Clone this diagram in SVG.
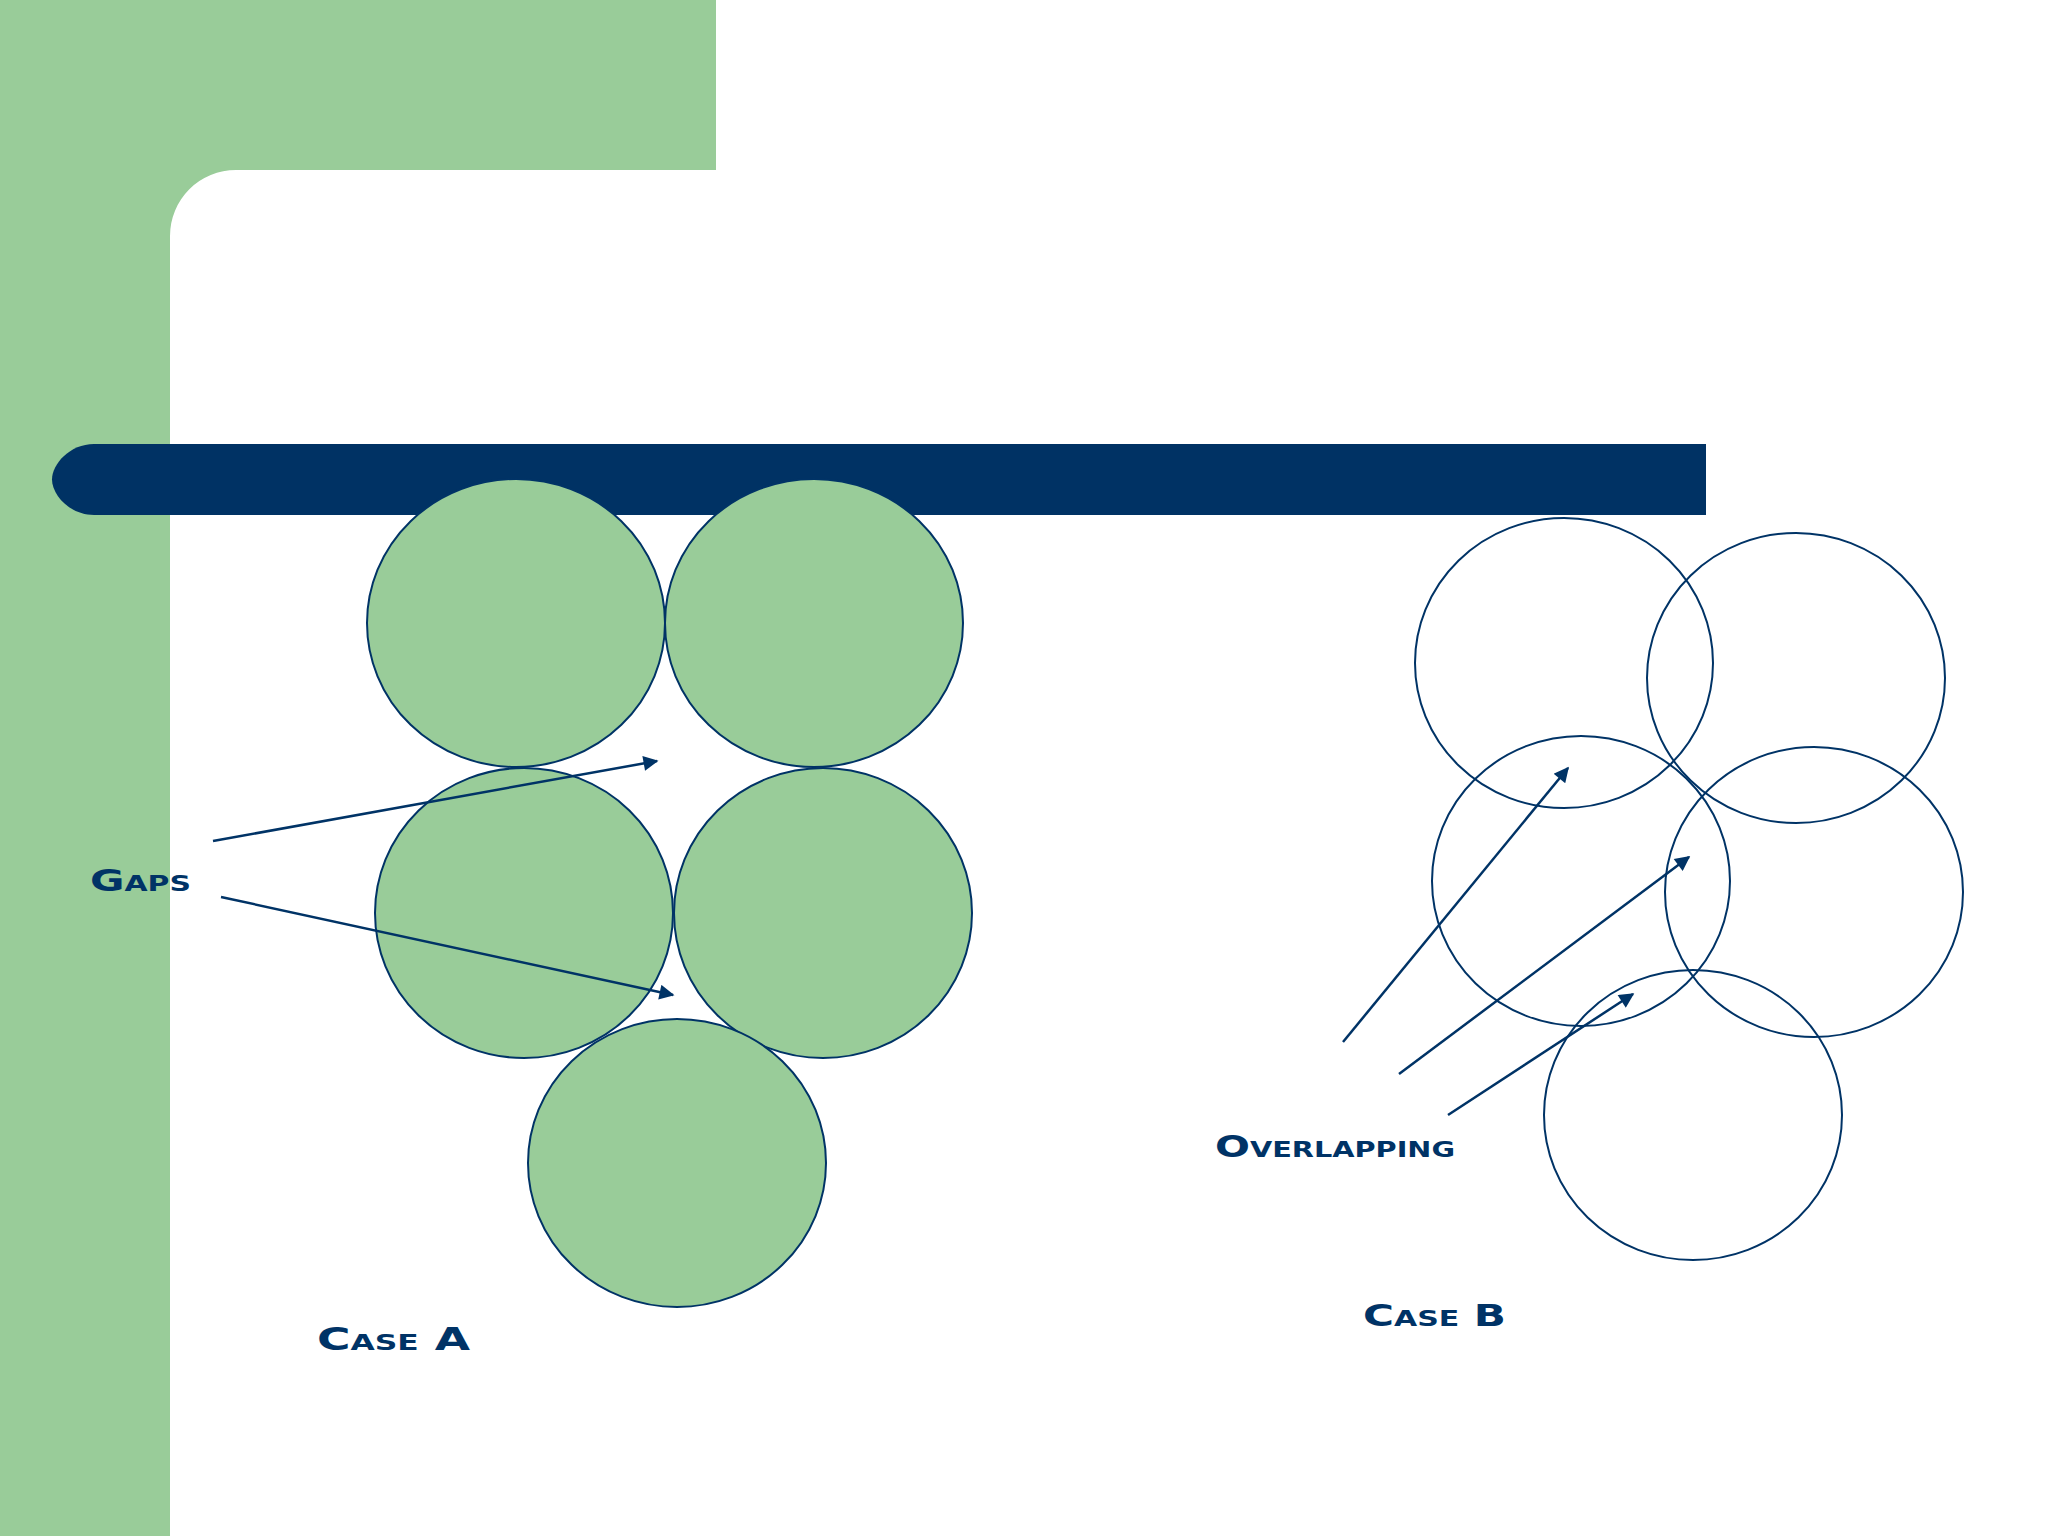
<svg xmlns="http://www.w3.org/2000/svg" width="2048" height="1536" viewBox="0 0 2048 1536">
<style>
.filled{fill:#99CC99;stroke:#003366;stroke-width:2}
.open{fill:none;stroke:#003366;stroke-width:2}
.conn{stroke:#003366;stroke-width:2.5;fill:none}
.lbl{fill:#003366;font-family:"DejaVu Sans","Liberation Sans",sans-serif;font-weight:bold;font-variant:small-caps}
</style>
<defs>
<marker id="ah" viewBox="0 0 10 10" refX="9" refY="5" markerWidth="7" markerHeight="6" markerUnits="strokeWidth" orient="auto">
<path d="M0,0 L10,5 L0,10 Z" fill="#003366"/>
</marker>
</defs>
<rect width="2048" height="1536" fill="#FFFFFF"/>
<g id="background">
<path d="M0,0 H716 V170 H236 A66,66 0 0 0 170,236 V1536 H0 Z" fill="#99CC99"/>
<path d="M94,444 H1706 V515 H94 C70,515 52,495 52,479.5 C52,464 70,444 94,444 Z" fill="#003264"/>
</g>
<g id="caseA">
<ellipse id="a1" class="filled" cx="516" cy="623" rx="149" ry="144"/>
<ellipse id="a2" class="filled" cx="814" cy="623" rx="149" ry="144"/>
<ellipse id="a3" class="filled" cx="524" cy="913" rx="149" ry="145"/>
<ellipse id="a4" class="filled" cx="823" cy="913" rx="149" ry="145"/>
<ellipse id="a5" class="filled" cx="677" cy="1163" rx="149" ry="144"/>
</g>
<g id="caseB">
<ellipse id="b1" class="open" cx="1564" cy="663" rx="149" ry="145"/>
<ellipse id="b2" class="open" cx="1796" cy="678" rx="149" ry="145"/>
<ellipse id="b3" class="open" cx="1581" cy="881" rx="149" ry="145"/>
<ellipse id="b4" class="open" cx="1814" cy="892" rx="149" ry="145"/>
<ellipse id="b5" class="open" cx="1693" cy="1115" rx="149" ry="145"/>
</g>
<g id="connectors">
<line class="conn" x1="213" y1="841" x2="657" y2="761" marker-end="url(#ah)"/>
<line class="conn" x1="221" y1="897" x2="673" y2="995" marker-end="url(#ah)"/>
<line class="conn" x1="1343" y1="1042" x2="1568" y2="768" marker-end="url(#ah)"/>
<line class="conn" x1="1399" y1="1074" x2="1689" y2="857" marker-end="url(#ah)"/>
<line class="conn" x1="1448" y1="1115" x2="1633" y2="994" marker-end="url(#ah)"/>
</g>
<g id="labels">
<text id="gaps" class="lbl" x="90" y="891" font-size="31" textLength="101" lengthAdjust="spacingAndGlyphs">Gaps</text>
<text id="overlapping" class="lbl" x="1215" y="1157" font-size="30" textLength="240" lengthAdjust="spacingAndGlyphs">Overlapping</text>
<text id="caseA-label" class="lbl" x="317" y="1350" font-size="32" textLength="153" lengthAdjust="spacingAndGlyphs">Case  A</text>
<text id="caseB-label" class="lbl" x="1363" y="1326" font-size="31" textLength="143" lengthAdjust="spacingAndGlyphs">Case  B</text>
</g>
</svg>
